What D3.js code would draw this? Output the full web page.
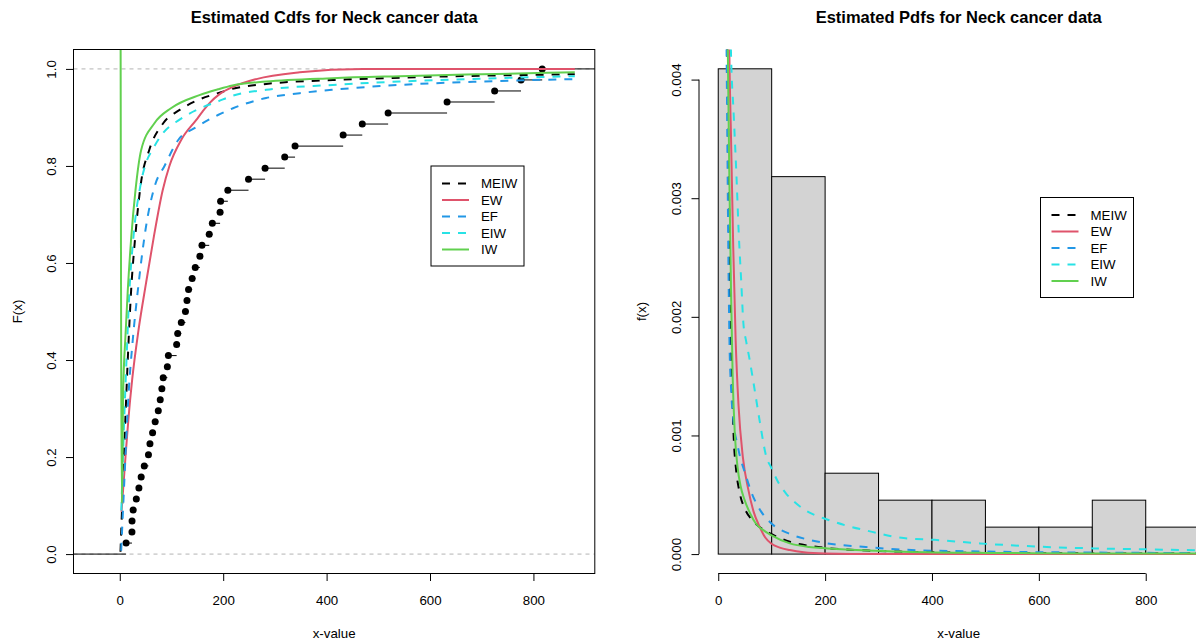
<!DOCTYPE html>
<html>
<head>
<meta charset="utf-8">
<script src="https://cdn.jsdelivr.net/npm/d3@7"></script>
<style>
  body { margin: 0; background: #fff; }
  svg { font-family: "Liberation Sans", Arial, sans-serif; }
</style>
</head>
<body>
<div id="graph"></div>
<script>
// head and neck cancer survival times
let neckData = [12.2, 23.56, 23.74, 25.87, 31.98, 37, 41.35, 47.38, 55.46, 58.36, 63.47, 68.46,
  74.47, 78.26, 81.43, 84, 92, 94, 110, 112, 119, 127, 130, 133, 140, 146, 155, 159, 173, 179,
  194, 195, 209, 249, 281, 319, 339, 432, 469, 519, 633, 725, 776, 817];

let modelNames = ["MEIW", "EW", "EF", "EIW", "IW"];
let modelColors = ["#000000", "#DF536B", "#2297E6", "#28E2E5", "#61D04F"];
let modelDashed = [true, false, true, true, false];

// fitted cdfs as [x, F(x)]
let cdfMEIW = [[1.4, 0.005], [7, 0.17], [13, 0.338], [22, 0.544], [30, 0.655], [41, 0.765], [57, 0.833],
  [84, 0.888], [115, 0.915], [154, 0.937], [190, 0.95], [218, 0.959], [283, 0.969], [412, 0.977],
  [541, 0.982], [700, 0.986], [880, 0.989]];
let cdfEW = [[3.3, 0.087], [11, 0.2], [20, 0.318], [24, 0.36], [36, 0.46], [51, 0.56], [66, 0.655],
  [83, 0.75], [96, 0.8], [119, 0.854], [148, 0.895], [160, 0.912], [174, 0.93], [193, 0.948],
  [219, 0.963], [264, 0.979], [348, 0.993], [470, 1.0], [880, 1.0]];
let cdfEF = [[2.7, 0.007], [9, 0.155], [17, 0.33], [25, 0.44], [35, 0.544], [50, 0.67], [68, 0.76],
  [86.5, 0.8], [112, 0.852], [148, 0.88], [190, 0.905], [219, 0.919], [283, 0.94], [348, 0.95],
  [412, 0.957], [541, 0.967], [700, 0.974], [880, 0.979]];
let cdfEIW = [[3, 0.09], [8, 0.26], [13, 0.4], [18.8, 0.544], [27, 0.66], [40, 0.76], [52, 0.81],
  [64, 0.835], [83, 0.867], [115, 0.895], [154, 0.918], [190, 0.933], [219, 0.945], [283, 0.957],
  [412, 0.967], [541, 0.974], [700, 0.98], [880, 0.985]];
let cdfIW = [[1.4, 1.2], [3.9, 0.105], [6.5, 0.33], [11, 0.45], [15.5, 0.544], [22, 0.65], [30.4, 0.75],
  [41.4, 0.833], [67, 0.888], [99, 0.919], [154, 0.946], [190, 0.958], [218, 0.966], [283, 0.974],
  [412, 0.981], [541, 0.985], [700, 0.989], [880, 0.993]];

// fitted pdfs as [x, f(x)]
let pdfMEIW = [[15.5, 0.0048], [17, 0.0042], [20, 0.0031], [23, 0.0019], [26, 0.0014], [29, 0.00098],
  [33, 0.00073], [40, 0.00052], [50, 0.00038], [63, 0.00029], [80, 0.00022], [99, 0.00017],
  [134, 0.000104], [170, 0.00007], [205, 0.00005], [280, 0.00003], [347, 0.00002], [500, 0.00001],
  [700, 0.000006], [940, 0.000004]];
let pdfEW = [[19.5, 0.0048], [20.6, 0.0043], [24, 0.0035], [28, 0.0026], [32.6, 0.0018], [38, 0.00125],
  [46, 0.00082], [56, 0.00055], [66, 0.00036], [77.5, 0.00023], [88, 0.00014], [99, 0.00009],
  [115, 0.000055], [134, 0.000034], [160, 0.000016], [200, 0.000006], [300, 0.000001], [940, 0]];
let pdfEF = [[14.5, 0.0048], [15.5, 0.0043], [17, 0.0035], [19, 0.0025], [21, 0.0018], [24, 0.0014],
  [29, 0.0011], [36, 0.00092], [42, 0.0008], [49, 0.0007], [63, 0.00051], [80, 0.00036], [99, 0.00026],
  [134, 0.00017], [170, 0.00012], [205, 0.00009], [276, 0.00006], [347, 0.000037], [490, 0.000022],
  [700, 0.000013], [940, 0.000008]];
let pdfEIW = [[22, 0.0048], [23.5, 0.0043], [29, 0.0037], [34, 0.0032], [38.4, 0.0027], [43, 0.0023],
  [47, 0.00195], [52, 0.0018], [57.5, 0.00167], [67.6, 0.0014], [78, 0.00111], [90, 0.00082],
  [99, 0.00073], [113, 0.0006], [127, 0.00051], [145, 0.00043], [163, 0.00037], [205, 0.00029],
  [240, 0.00024], [276, 0.0002], [347, 0.000135], [405, 0.00012], [490, 0.00009], [604, 0.000062],
  [703, 0.000048], [800, 0.00004], [940, 0.00003]];
let pdfIW = [[16.5, 0.0048], [18, 0.0042], [21, 0.0031], [24, 0.0022], [27, 0.0015], [31, 0.00102],
  [36, 0.00074], [42, 0.00057], [49, 0.00046], [60, 0.00034], [70, 0.00026], [85, 0.0002],
  [99, 0.00016], [134, 0.00009], [170, 0.00006], [205, 0.000048], [280, 0.00003], [347, 0.00002],
  [500, 0.00001], [700, 0.000006], [940, 0.000004]];

let cdfSeries = [cdfMEIW, cdfEW, cdfEF, cdfEIW, cdfIW];
let pdfSeries = [pdfMEIW, pdfEW, pdfEF, pdfEIW, pdfIW];

let xTicksL = [0, 200, 400, 600, 800];
let yTicksL = [0, 0.2, 0.4, 0.6, 0.8, 1.0];
let xTicksR = [0, 200, 400, 600, 800];
let yTicksR = [0, 0.001, 0.002, 0.003, 0.004];
let histBreaks = [100, 200, 300, 400, 500, 600, 700, 800];

let svgWidth = 1196, svgHeight = 642;
let fontSize = 13.3;

let svg = d3.select("#graph")
  .append("svg")
  .attr("width", svgWidth)
  .attr("height", svgHeight);

let defs = svg.append("defs");

function addClip(id, x0, x1, y0, y1) {
  defs.append("clipPath").attr("id", id)
    .append("rect")
    .attr("x", x0).attr("y", y0)
    .attr("width", x1 - x0).attr("height", y1 - y0);
}

function drawCurves(g, series, x, y) {
  let line = d3.line()
    .x(d => x(d[0]))
    .y(d => y(d[1]))
    .curve(d3.curveMonotoneX);
  series.forEach(function (s, i) {
    g.append("path")
      .attr("d", line(s))
      .attr("fill", "none")
      .attr("stroke", modelColors[i])
      .attr("stroke-width", 2)
      .attr("stroke-dasharray", modelDashed[i] ? "8,8" : null);
  });
}

function drawLegend(left, top) {
  let lg = svg.append("g").attr("transform", `translate(${left},${top})`);
  lg.append("rect")
    .attr("x", 0.5).attr("y", 0.5)
    .attr("width", 93).attr("height", 100)
    .attr("fill", "#fff")
    .attr("stroke", "#000");
  modelNames.forEach(function (name, i) {
    let yy = 18 + i * 16.5;
    lg.append("line")
      .attr("x1", 11.5).attr("x2", 38.5)
      .attr("y1", yy).attr("y2", yy)
      .attr("stroke", modelColors[i])
      .attr("stroke-width", 2)
      .attr("stroke-dasharray", modelDashed[i] ? "8,8" : null);
    lg.append("text")
      .attr("x", 50.5).attr("y", yy)
      .attr("dy", "0.36em")
      .style("font-size", fontSize + "px")
      .text(name);
  });
}

function styleYLabels(axisG, offset) {
  axisG.selectAll(".tick text")
    .attr("x", 0).attr("y", 0)
    .attr("dy", "0.36em")
    .attr("transform", `translate(${-offset},0) rotate(-90)`)
    .style("text-anchor", "middle")
    .style("font-size", fontSize + "px");
}

function styleXLabels(axisG) {
  axisG.selectAll(".tick text")
    .attr("y", 26.5)
    .attr("dy", "0.36em")
    .style("font-size", fontSize + "px");
}

// ---------- left panel: estimated cdfs ----------
let xL = d3.scaleLinear().domain([-89.5, 918.7]).range([73.5, 594.8]);
let yL = d3.scaleLinear().domain([-0.04, 1.04]).range([573.5, 49.5]);
addClip("clipL", 73.5, 594.8, 49.5, 573.5);

let left = svg.append("g").attr("clip-path", "url(#clipL)");

// reference lines at 0 and 1
[0, 1].forEach(function (h) {
  left.append("line")
    .attr("x1", xL.range()[0]).attr("x2", xL.range()[1])
    .attr("y1", yL(h)).attr("y2", yL(h))
    .attr("stroke", "#B3B3B3")
    .attr("stroke-dasharray", "4,4");
});

// empirical cdf steps
let sorted = neckData.slice().sort(d3.ascending);
let n = sorted.length;
let steps = [{ x0: xL.domain()[0], x1: sorted[0], F: 0 }];
sorted.forEach(function (v, i) {
  steps.push({ x0: v, x1: i < n - 1 ? sorted[i + 1] : xL.domain()[1], F: (i + 1) / n });
});

left.selectAll(".step")
  .data(steps)
  .enter().append("line")
  .attr("class", "step")
  .attr("x1", d => xL(d.x0)).attr("x2", d => xL(d.x1))
  .attr("y1", d => yL(d.F)).attr("y2", d => yL(d.F))
  .attr("stroke", "#000")
  .attr("stroke-width", 1);

left.selectAll("circle")
  .data(steps.slice(1))
  .enter().append("circle")
  .attr("cx", d => xL(d.x0))
  .attr("cy", d => yL(d.F))
  .attr("r", 3.5)
  .attr("fill", "#000");

drawCurves(left, cdfSeries, xL, yL);

// frame and axes
svg.append("rect")
  .attr("x", 73.5).attr("y", 49.5)
  .attr("width", 594.8 - 73.5).attr("height", 573.5 - 49.5)
  .attr("fill", "none")
  .attr("stroke", "#000");

let xAxisL = svg.append("g")
  .attr("transform", "translate(0,573.5)")
  .call(d3.axisBottom(xL).tickValues(xTicksL).tickSize(7.5).tickFormat(d3.format("d")));
xAxisL.select(".domain").remove();
styleXLabels(xAxisL);

let yAxisL = svg.append("g")
  .attr("transform", "translate(73.5,0)")
  .call(d3.axisLeft(yL).tickValues(yTicksL).tickSize(7.5).tickFormat(d3.format(".1f")));
yAxisL.select(".domain").remove();
styleYLabels(yAxisL, 22.5);

svg.append("text")
  .attr("x", (73.5 + 594.8) / 2).attr("y", 22.5)
  .style("text-anchor", "middle")
  .style("font-size", "16.5px")
  .style("font-weight", "bold")
  .text("Estimated Cdfs for Neck cancer data");

svg.append("text")
  .attr("x", (73.5 + 594.8) / 2).attr("y", 633)
  .attr("dy", "0.36em")
  .style("text-anchor", "middle")
  .style("font-size", fontSize + "px")
  .text("x-value");

svg.append("text")
  .attr("transform", `translate(17.5,${(49.5 + 573.5) / 2}) rotate(-90)`)
  .attr("dy", "0.36em")
  .style("text-anchor", "middle")
  .style("font-size", fontSize + "px")
  .text("F(x)");

drawLegend(430.5, 165.5);

// ---------- right panel: histogram and estimated pdfs ----------
let xR = d3.scaleLinear().domain([-36, 936]).range([699, 1218.4]);
let yR = d3.scaleLinear().domain([-0.0001636, 0.0042536]).range([573.5, 49.5]);
addClip("clipR", 699, 1218.4, 49.5, 573.5);

let right = svg.append("g").attr("clip-path", "url(#clipR)");

let bins = d3.bin().domain([0, 900]).thresholds(histBreaks)(neckData);

right.selectAll("rect")
  .data(bins)
  .enter().append("rect")
  .attr("x", d => xR(d.x0))
  .attr("width", d => xR(d.x1) - xR(d.x0))
  .attr("y", d => yR(d.length / (n * (d.x1 - d.x0))))
  .attr("height", d => yR(0) - yR(d.length / (n * (d.x1 - d.x0))))
  .attr("fill", "#D3D3D3")
  .attr("stroke", "#000");

drawCurves(right, pdfSeries, xR, yR);

let xAxisR = svg.append("g")
  .attr("transform", "translate(0,573.5)")
  .call(d3.axisBottom(xR).tickValues(xTicksR).tickSize(7.5).tickFormat(d3.format("d")));
xAxisR.select(".domain").remove();
xAxisR.append("line")
  .attr("x1", xR(0)).attr("x2", xR(800))
  .attr("stroke", "#000");
styleXLabels(xAxisR);

let yAxisR = svg.append("g")
  .attr("transform", "translate(699,0)")
  .call(d3.axisLeft(yR).tickValues(yTicksR).tickSize(7.5).tickFormat(d3.format(".3f")));
yAxisR.select(".domain").remove();
yAxisR.append("line")
  .attr("y1", yR(0)).attr("y2", yR(0.004))
  .attr("stroke", "#000");
styleYLabels(yAxisR, 23);

svg.append("text")
  .attr("x", (699 + 1218.4) / 2).attr("y", 22.5)
  .style("text-anchor", "middle")
  .style("font-size", "16.5px")
  .style("font-weight", "bold")
  .text("Estimated Pdfs for Neck cancer data");

svg.append("text")
  .attr("x", (699 + 1218.4) / 2).attr("y", 633)
  .attr("dy", "0.36em")
  .style("text-anchor", "middle")
  .style("font-size", fontSize + "px")
  .text("x-value");

svg.append("text")
  .attr("transform", `translate(641,${(49.5 + 573.5) / 2}) rotate(-90)`)
  .attr("dy", "0.36em")
  .style("text-anchor", "middle")
  .style("font-size", fontSize + "px")
  .text("f(x)");

drawLegend(1040, 197);
</script>
</body>
</html>
